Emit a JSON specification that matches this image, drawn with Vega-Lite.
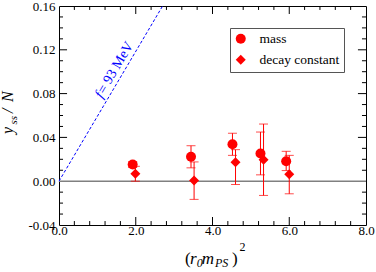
{
  "$schema": "https://vega.github.io/schema/vega-lite/v6.json",
  "width": 307,
  "height": 219,
  "autosize": {"type": "none"},
  "padding": {"left": 59, "top": 6, "right": 10, "bottom": 47},
  "background": "white",
  "config": {
    "font": "Liberation Serif",
    "view": {"stroke": "black", "strokeWidth": 1},
    "axis": {"domain": false, "grid": false, "ticks": false, "tickSize": 0, "labelFont": "Liberation Serif", "labelFontSize": 13, "labelColor": "black", "labelFlush": false},
    "legend": {"labelFont": "Liberation Serif"},
    "text": {"font": "Liberation Serif"}
  },
  "datasets": {
    "pts": [
      {"series": "mass", "x": 1.92, "y": 0.0152, "lo": 0.0125, "hi": 0.018},
      {"series": "mass", "x": 3.44, "y": 0.0223, "lo": 0.0122, "hi": 0.0324},
      {"series": "mass", "x": 4.52, "y": 0.0337, "lo": 0.0236, "hi": 0.0438},
      {"series": "mass", "x": 5.25, "y": 0.0253, "lo": 0.0058, "hi": 0.0449},
      {"series": "mass", "x": 5.92, "y": 0.0183, "lo": 0.0097, "hi": 0.0273},
      {"series": "decay constant", "x": 1.99, "y": 0.0067, "lo": 0.0, "hi": 0.0136},
      {"series": "decay constant", "x": 3.52, "y": 0.0006, "lo": -0.0166, "hi": 0.0176},
      {"series": "decay constant", "x": 4.6, "y": 0.0173, "lo": -0.003, "hi": 0.0288},
      {"series": "decay constant", "x": 5.33, "y": 0.0197, "lo": -0.013, "hi": 0.0522},
      {"series": "decay constant", "x": 6.0, "y": 0.0064, "lo": -0.0115, "hi": 0.0236}
    ],
    "fline": [
      {"x": 0, "y": 0},
      {"x": 2.7, "y": 0.16}
    ],
    "xmaj": [{"v": 2}, {"v": 4}, {"v": 6}],
    "xmin": [{"v": 0.4}, {"v": 0.8}, {"v": 1.2}, {"v": 1.6}, {"v": 2.4}, {"v": 2.8}, {"v": 3.2}, {"v": 3.6}, {"v": 4.4}, {"v": 4.8}, {"v": 5.2}, {"v": 5.6}, {"v": 6.4}, {"v": 6.8}, {"v": 7.2}, {"v": 7.6}],
    "ymaj": [{"v": 0.04}, {"v": 0.08}, {"v": 0.12}],
    "ymin": [{"v": -0.03}, {"v": -0.02}, {"v": -0.01}, {"v": 0.01}, {"v": 0.02}, {"v": 0.03}, {"v": 0.05}, {"v": 0.06}, {"v": 0.07}, {"v": 0.09}, {"v": 0.1}, {"v": 0.11}, {"v": 0.13}, {"v": 0.14}, {"v": 0.15}],
    "one": [{"k": 1}]
  },
  "encoding": {
    "x": {"type": "quantitative", "scale": {"domain": [0, 8], "nice": false, "zero": false},
      "axis": {"orient": "bottom", "values": [0, 2, 4, 6, 8], "format": ".1f", "labelPadding": -1, "title": null}},
    "y": {"type": "quantitative", "scale": {"domain": [-0.04, 0.16], "nice": false, "zero": false},
      "axis": {"orient": "left", "values": [-0.04, 0, 0.04, 0.08, 0.12, 0.16], "labelPadding": 4, "title": null,
        "labelExpr": "datum.value < 0 ? '-' + format(-datum.value, '.2f') : format(datum.value, '.2f')"}}
  },
  "layer": [
    {
      "data": {"name": "one"},
      "mark": {"type": "rule", "color": "#808080", "strokeWidth": 1.5},
      "encoding": {"y": {"datum": 0}}
    },
    {
      "data": {"name": "fline"},
      "mark": {"type": "line", "color": "blue", "strokeWidth": 1, "strokeDash": [3, 2]},
      "encoding": {"x": {"field": "x", "type": "quantitative"}, "y": {"field": "y", "type": "quantitative"}}
    },
    {
      "data": {"name": "one"},
      "mark": {"type": "text", "text": "f", "fontStyle": "italic", "fontSize": 14, "fill": "blue", "angle": -59.6, "align": "left", "baseline": "alphabetic", "dx": -31, "dy": -5},
      "encoding": {"x": {"datum": 1.64}, "y": {"datum": 0.0972}}
    },
    {
      "data": {"name": "one"},
      "mark": {"type": "text", "text": "= 93 MeV", "fontSize": 14, "fill": "blue", "angle": -59.6, "align": "left", "baseline": "alphabetic", "dx": -26, "dy": -5},
      "encoding": {"x": {"datum": 1.64}, "y": {"datum": 0.0972}}
    },
    {
      "data": {"name": "pts"},
      "mark": {"type": "rule", "color": "red", "strokeWidth": 1},
      "encoding": {"x": {"field": "x", "type": "quantitative"}, "y": {"field": "lo", "type": "quantitative"}, "y2": {"field": "hi"}}
    },
    {
      "data": {"name": "pts"},
      "mark": {"type": "tick", "color": "red", "orient": "horizontal", "size": 9, "thickness": 1},
      "encoding": {"x": {"field": "x", "type": "quantitative"}, "y": {"field": "lo", "type": "quantitative"}}
    },
    {
      "data": {"name": "pts"},
      "mark": {"type": "tick", "color": "red", "orient": "horizontal", "size": 9, "thickness": 1},
      "encoding": {"x": {"field": "x", "type": "quantitative"}, "y": {"field": "hi", "type": "quantitative"}}
    },
    {
      "data": {"name": "pts"},
      "mark": {"type": "point", "filled": true, "color": "red", "opacity": 1, "size": 100},
      "encoding": {
        "x": {"field": "x", "type": "quantitative"},
        "y": {"field": "y", "type": "quantitative"},
        "shape": {"field": "series", "type": "nominal",
          "scale": {"domain": ["mass", "decay constant"], "range": ["circle", "diamond"]},
          "legend": {"title": null, "orient": "top-right", "offset": 22, "labelFont": "Liberation Serif", "labelFontSize": 13.5, "labelColor": "black",
            "symbolSize": 100, "symbolFillColor": "red", "symbolStrokeColor": "red", "labelOffset": 12, "padding": 4, "rowPadding": 4,
            "strokeColor": "#555", "fillColor": "white"}}
      }
    },
    {
      "data": {"name": "xmaj"},
      "mark": {"type": "rule", "color": "black", "strokeWidth": 1},
      "encoding": {"x": {"field": "v", "type": "quantitative"}, "y": {"datum": -0.04}, "y2": {"datum": -0.0327}}
    },
    {
      "data": {"name": "xmaj"},
      "mark": {"type": "rule", "color": "black", "strokeWidth": 1},
      "encoding": {"x": {"field": "v", "type": "quantitative"}, "y": {"datum": 0.16}, "y2": {"datum": 0.1527}}
    },
    {
      "data": {"name": "xmin"},
      "mark": {"type": "rule", "color": "black", "strokeWidth": 1},
      "encoding": {"x": {"field": "v", "type": "quantitative"}, "y": {"datum": -0.04}, "y2": {"datum": -0.0364}}
    },
    {
      "data": {"name": "xmin"},
      "mark": {"type": "rule", "color": "black", "strokeWidth": 1},
      "encoding": {"x": {"field": "v", "type": "quantitative"}, "y": {"datum": 0.16}, "y2": {"datum": 0.1564}}
    },
    {
      "data": {"name": "ymaj"},
      "mark": {"type": "rule", "color": "black", "strokeWidth": 1},
      "encoding": {"y": {"field": "v", "type": "quantitative"}, "x": {"datum": 0}, "x2": {"datum": 0.21}}
    },
    {
      "data": {"name": "ymaj"},
      "mark": {"type": "rule", "color": "black", "strokeWidth": 1},
      "encoding": {"y": {"field": "v", "type": "quantitative"}, "x": {"datum": 8}, "x2": {"datum": 7.79}}
    },
    {
      "data": {"name": "ymin"},
      "mark": {"type": "rule", "color": "black", "strokeWidth": 1},
      "encoding": {"y": {"field": "v", "type": "quantitative"}, "x": {"datum": 0}, "x2": {"datum": 0.105}}
    },
    {
      "data": {"name": "ymin"},
      "mark": {"type": "rule", "color": "black", "strokeWidth": 1},
      "encoding": {"y": {"field": "v", "type": "quantitative"}, "x": {"datum": 8}, "x2": {"datum": 7.895}}
    },
    {
      "data": {"name": "one"},
      "mark": {"type": "text", "text": "(", "fontSize": 17, "fill": "black", "align": "left", "baseline": "alphabetic", "dx": -27.5, "dy": 39},
      "encoding": {"x": {"datum": 4}, "y": {"datum": -0.04}}
    },
    {
      "data": {"name": "one"},
      "mark": {"type": "text", "text": "r", "fontSize": 17, "fontStyle": "italic", "fill": "black", "align": "left", "baseline": "alphabetic", "dx": -22.5, "dy": 39},
      "encoding": {"x": {"datum": 4}, "y": {"datum": -0.04}}
    },
    {
      "data": {"name": "one"},
      "mark": {"type": "text", "text": "0", "fontSize": 12, "fontStyle": "italic", "fill": "black", "align": "left", "baseline": "alphabetic", "dx": -15.8, "dy": 42},
      "encoding": {"x": {"datum": 4}, "y": {"datum": -0.04}}
    },
    {
      "data": {"name": "one"},
      "mark": {"type": "text", "text": "m", "fontSize": 17, "fontStyle": "italic", "fill": "black", "align": "left", "baseline": "alphabetic", "dx": -10.8, "dy": 39},
      "encoding": {"x": {"datum": 4}, "y": {"datum": -0.04}}
    },
    {
      "data": {"name": "one"},
      "mark": {"type": "text", "text": "PS", "fontSize": 12, "fontStyle": "italic", "fill": "black", "align": "left", "baseline": "alphabetic", "dx": 2.5, "dy": 42},
      "encoding": {"x": {"datum": 4}, "y": {"datum": -0.04}}
    },
    {
      "data": {"name": "one"},
      "mark": {"type": "text", "text": ")", "fontSize": 17, "fill": "black", "align": "left", "baseline": "alphabetic", "dx": 19.5, "dy": 39},
      "encoding": {"x": {"datum": 4}, "y": {"datum": -0.04}}
    },
    {
      "data": {"name": "one"},
      "mark": {"type": "text", "text": "2", "fontSize": 12, "fill": "black", "align": "left", "baseline": "alphabetic", "dx": 27, "dy": 26},
      "encoding": {"x": {"datum": 4}, "y": {"datum": -0.04}}
    },
    {
      "data": {"name": "one"},
      "mark": {"type": "text", "text": "y", "fontSize": 16, "fontStyle": "italic", "fill": "black", "angle": -90, "align": "left", "baseline": "alphabetic", "dx": -18.5, "dy": -46.3},
      "encoding": {"x": {"datum": 0}, "y": {"datum": 0.06}}
    },
    {
      "data": {"name": "one"},
      "mark": {"type": "text", "text": "ss", "fontSize": 11, "fontStyle": "italic", "fill": "black", "angle": -90, "align": "left", "baseline": "alphabetic", "dx": -9, "dy": -42.5},
      "encoding": {"x": {"datum": 0}, "y": {"datum": 0.06}}
    },
    {
      "data": {"name": "one"},
      "mark": {"type": "text", "text": "/", "fontSize": 16, "fontStyle": "italic", "fill": "black", "angle": -90, "align": "left", "baseline": "alphabetic", "dx": 2.5, "dy": -46.3},
      "encoding": {"x": {"datum": 0}, "y": {"datum": 0.06}}
    },
    {
      "data": {"name": "one"},
      "mark": {"type": "text", "text": "N", "fontSize": 16, "fontStyle": "italic", "fill": "black", "angle": -90, "align": "left", "baseline": "alphabetic", "dx": 13.5, "dy": -46.3},
      "encoding": {"x": {"datum": 0}, "y": {"datum": 0.06}}
    }
  ]
}
